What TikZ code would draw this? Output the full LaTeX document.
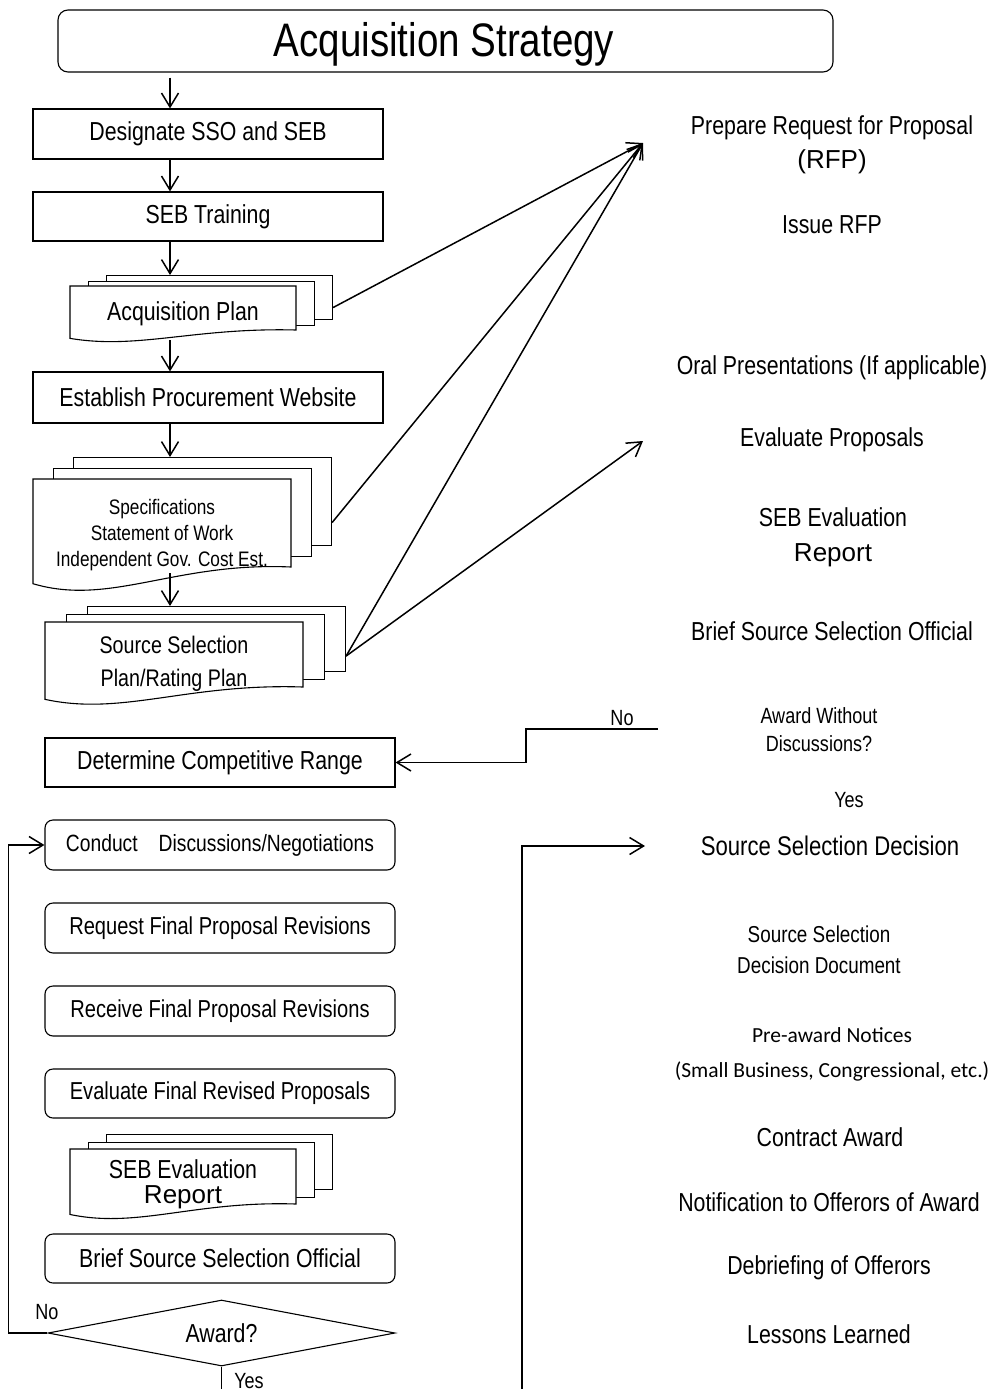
\documentclass[tikz,border=0pt]{standalone}
\usepackage{fontspec}
\setmainfont[FakeStretch=0.82]{Liberation Sans}
\newfontfamily\widefont{Liberation Sans}
\newfontfamily\calfont{Carlito}
\usetikzlibrary{arrows.meta}
\usetikzlibrary{shapes.geometric}
\usetikzlibrary{calc}

% stack of three pages: name, left, top, width, height, dx, dy, font, text
\newcommand{\paperstack}[9]{%
    \node[page, minimum width=#4pt, minimum height=#5pt] (#1-b) at (#2+2*#6,#3-2*#7) {};
    \node[page, minimum width=#4pt, minimum height=#5pt] (#1-m) at (#2+#6,#3-#7) {};
    \node[anchor=north west, inner sep=0pt, outer sep=0pt,
        minimum width=#4pt, minimum height=#5pt] (#1-f) at (#2,#3) {};
    \draw[fill=white, line width=1.1pt] (#1-f.north west) -- (#1-f.north east) -- (#1-f.south east)
        .. controls ($(#1-f.south)+(0.05*#4,-0.06*#5)$) and ($(#1-f.south west)+(0.3*#4,0.45*#5)$)
        .. ($(#1-f.south west)+(0,0.19*#5)$) -- cycle;
    \node[align=center, font=#8] (#1) at ($(#1-f.center)+(0,0.14*#5)$) {#9};
}

\begin{document}
\begin{tikzpicture}[x=1pt, y=-1pt,
        box/.style={draw, line width=1.1pt, minimum width=350pt, minimum height=50pt,
            font=\fontsize{26}{30}\selectfont},
        rbox/.style={box, rounded corners=8pt},
        page/.style={draw, fill=white, line width=1.1pt, anchor=north west, inner sep=0pt},
        arr/.style={line width=1.5pt, -{Straight Barb[length=14pt,width=17pt]}},
        note/.style={align=center, font=\fontsize{26}{34}\selectfont},
        small/.style={align=center, font=\fontsize{22}{28}\selectfont}]

        \useasboundingbox (0,0) rectangle (993,1389);

        \coordinate (spine) at (170,0);
        \coordinate (rfp-in) at (643,143);
        \coordinate (evp-in) at (643,441);
        \coordinate (wod-out) at (658,729);
        \coordinate (yes-up) at (522,1392);
        \coordinate (ssd-in) at (645,846);

        % left column
        \node[draw, line width=1.1pt, rounded corners=10pt, minimum width=775pt, minimum height=62pt,
            font=\fontsize{47}{50}\selectfont] (title) at (445.5,41) {};
        \node[font=\fontsize{47}{50}\selectfont] (titletext) at (444,44) {Acquisition Strategy};
        \node[box] (dsso) at (208,134) {Designate SSO and SEB};
        \node[box, minimum height=49pt] (train) at (208,216.5) {SEB Training};
        \paperstack{acq}{70}{286}{226}{44}{18}{5.5}{\fontsize{26}{30}\selectfont}{Acquisition Plan}
        \node[box, minimum height=51pt] (web) at (208,397.5) {Establish Procurement Website};
        \paperstack{spec}{33}{479}{258}{88}{20}{11}{\fontsize{21}{26}\selectfont}%
            {Specifications\\ Statement of Work\\ Independent Gov. Cost Est.}
        \paperstack{ssp}{45}{622}{258}{65}{21}{8}{\fontsize{24}{33}\selectfont}%
            {Source Selection\\ Plan/Rating Plan}

        \node[box, minimum height=49pt] (comp) at (220,762.5) {Determine Competitive Range};
        \node[rbox, font=\fontsize{23.5}{30}\selectfont] (conduct) at (220,845)
            {Conduct\hspace{21pt}Discussions/Negotiations};
        \node[rbox, font=\fontsize{24.5}{30}\selectfont] (reqfin) at (220,928)
            {Request Final Proposal Revisions};
        \node[rbox, font=\fontsize{24.5}{30}\selectfont] (recfin) at (220,1011)
            {Receive Final Proposal Revisions};
        \node[rbox, minimum height=49pt, font=\fontsize{24.5}{30}\selectfont] (evalfin) at (220,1093.5)
            {Evaluate Final Revised Proposals};
        \paperstack{seb}{70}{1149}{226}{55}{18}{7.5}{\fontsize{26}{25}\selectfont}%
            {SEB Evaluation\\ \widefont Report}
        \node[rbox, minimum height=49pt] (brief) at (220,1258.5) {Brief Source Selection Official};
        \node[diamond, aspect=5.26, draw, line width=1.1pt, inner sep=0pt, minimum width=347pt,
            minimum height=66pt, font=\fontsize{26}{30}\selectfont] (award) at (221.5,1333) {Award?};

        % right column
        \node[note] (rfp) at (832,145) {Prepare Request for Proposal\\ \widefont (RFP)};
        \node[note] (issue) at (832,225) {Issue RFP};
        \node[note] (oral) at (832,368) {Oral Presentations (If applicable)};
        \node[note] (evalp) at (832,440) {Evaluate Proposals};
        \node[note, font=\fontsize{26}{35}\selectfont] (sebrep) at (833,537)
            {SEB Evaluation\\ \widefont Report};
        \node[note] (brief2) at (832,631) {Brief Source Selection Official};
        \node[small] (wod) at (819,730) {Award Without\\ Discussions?};
        \node[small] (yes1) at (849,800) {Yes};
        \node[note, font=\fontsize{27}{34}\selectfont] (ssd) at (830,846) {Source Selection Decision};
        \node[note, font=\fontsize{23}{31}\selectfont] (ssdd) at (819,950)
            {Source Selection\\ Decision Document};
        \node[note, font=\calfont\fontsize{21.5}{35}\selectfont] (pre) at (832,1054)
            {Pre-award Notices\\ (Small Business, Congressional, etc.)};
        \node[note] (contract) at (830,1137) {Contract Award};
        \node[note] (notify) at (829,1202) {Notification to Offerors of Award};
        \node[note] (debrief) at (829,1268) {Debriefing of Offerors};
        \node[note] (lessons) at (829,1334) {Lessons Learned};

        % arrows down the column
        \draw[arr, shorten <=5pt] (title.south -| spine) -- (dsso.north -| spine);
        \draw[arr] (dsso.south -| spine) -- (train.north -| spine);
        \draw[arr] (train.south -| spine) -- (acq-b.north -| spine);
        \draw[arr] ($(acq-f.south -| spine)+(0,10)$) -- (web.north -| spine);
        \draw[arr] (web.south -| spine) -- (spec-b.north -| spine);
        \draw[arr] ($(spec-f.south -| spine)+(0,6)$) -- (ssp-b.north -| spine);

        % arrows to the RFP and evaluation
        \draw[arr] ($(acq-b.east)+(0,10)$) -- (rfp-in);
        \draw[arr] ($(spec-b.east)+(0,21)$) -- (rfp-in);
        \draw[arr] ($(ssp-b.east)+(0,17)$) -- (rfp-in);
        \draw[arr] ($(ssp-b.east)+(0,17)$) -- (evp-in);

        % decisions
        \draw[arr] (wod-out) -- (526,729) |- (comp.east);
        \node[small] (no1) at (622,718) {No};
        \draw[arr] (award.west) -- ++(-39,0) |- (conduct.west);
        \node[small] (no2) at (47,1312) {No};
        \draw[line width=1.5pt] (award.south) -- ++(0,30);
        \node[small] (yes2) at (249,1381) {Yes};
        \draw[arr] (yes-up) |- (ssd-in);

\end{tikzpicture}
\end{document}
